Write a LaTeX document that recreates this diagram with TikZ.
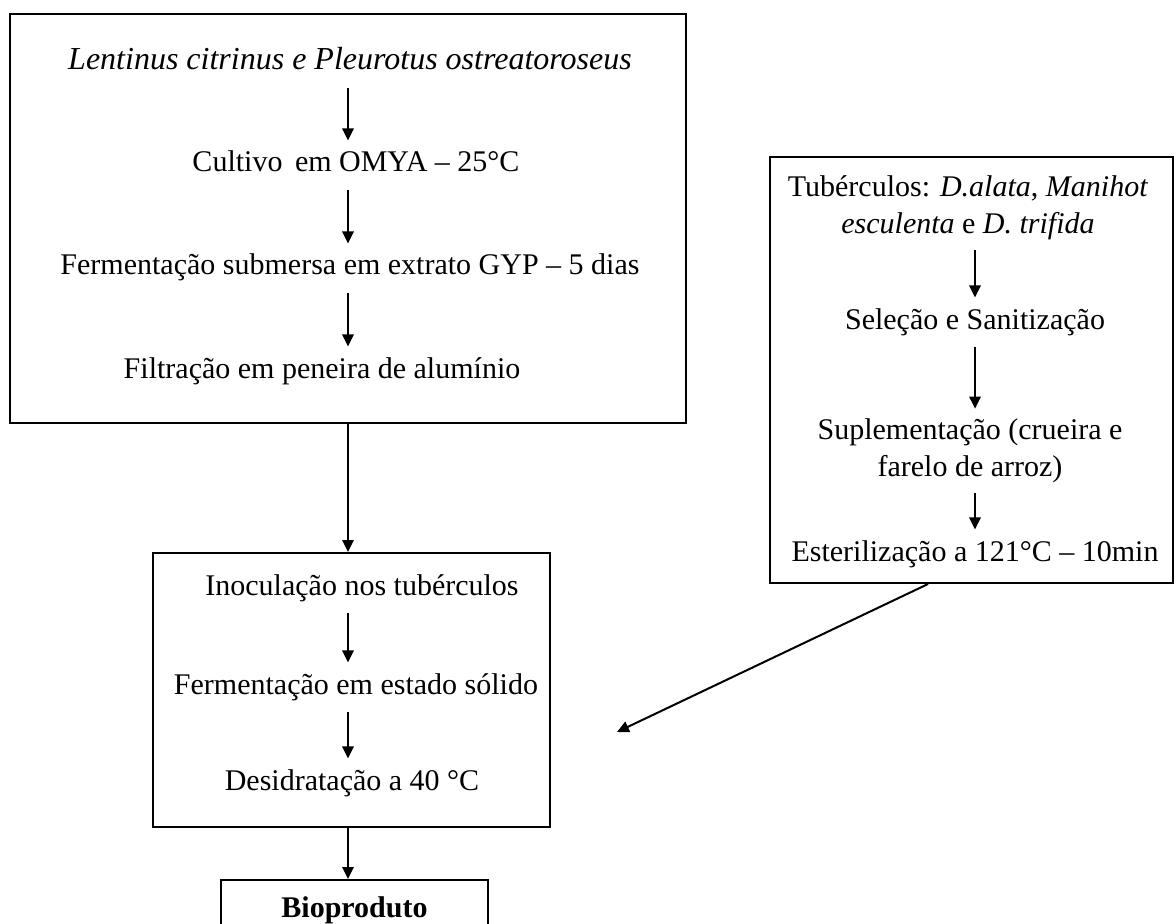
\documentclass[tikz,border=0pt]{standalone}
\usepackage{fontspec}
\setmainfont{Liberation Serif}
\usetikzlibrary{arrows.meta}
\tikzset{
  etapa/.style={font=\fontsize{22.5}{27.75}\selectfont, inner xsep=0pt, inner ysep=7.5pt, text height=16pt, text depth=5.5pt},
  etapam/.style={etapa, align=center, text height=, text depth=},
  caixa/.style={draw, line width=1.5pt, inner sep=0pt},
  seta/.style={line width=1.5pt, -{Triangle[width=8.5pt,length=9pt]}},
}
\begin{document}
\begin{tikzpicture}[x=0.75pt,y=0.75pt,yscale=-1,xscale=1]
\path[use as bounding box, clip] (0,0) rectangle (1176,923);
% axes of the arrows
\coordinate (eixo) at (348,0);
\coordinate (eixod) at (975,0);
%Shape: boxes
\node[caixa, minimum width=507pt, minimum height=306.75pt] (cultura) at (348,218.5) {};
\node[caixa, minimum width=297.75pt, minimum height=205.5pt] (solido) at (351.5,690) {};
\node[caixa, minimum width=302.25pt, minimum height=319.5pt] (substrato) at (971.5,370) {};
\node[caixa, etapa, minimum width=200.25pt, minimum height=45pt] (bio) at (354.5,910) {\textbf{Bioproduto}};
% Text Node
\node[etapa, font=\fontsize{24}{27.75}\selectfont] (fungos) at (350,63) {\textit{Lentinus citrinus e Pleurotus ostreatoroseus}};
\node[etapa] (cultivo) at (356,165) {Cultivo\, em OMYA – 25°C};
\node[etapa] (submersa) at (350,268) {Fermentação submersa em extrato GYP – 5 dias};
\node[etapa] (filtra) at (322,371) {Filtração em peneira de alumínio};
% Text Node
\node[etapa] (inocula) at (362,588) {Inoculação nos tubérculos};
\node[etapa] (fes) at (356,687) {Fermentação em estado sólido};
\node[etapa] (seca) at (352,783) {Desidratação a 40 °C};
% Text Node
\node[etapam] (tuber) at (968,208) {Tubérculos: \textit{D.alata}, \textit{Manihot}\\ \textit{esculenta} e \textit{D. trifida}};
\node[etapa] (selecao) at (975,322) {Seleção e Sanitização};
\node[etapam] (suple) at (970,451) {Suplementação (crueira e\\ farelo de arroz)};
\node[etapa] (ester) at (975,554) {Esterilização a 121°C – 10min};
\coordinate (alvo) at (617,732);
%Straight Lines
\draw[seta] (fungos.south -| eixo) -- (cultivo.north -| eixo);
\draw[seta] (cultivo.south -| eixo) -- (submersa.north -| eixo);
\draw[seta] (submersa.south -| eixo) -- (filtra.north -| eixo);
\draw[seta] (cultura.south -| eixo) -- (solido.north -| eixo);
\draw[seta] (inocula.south -| eixo) -- (fes.north -| eixo);
\draw[seta] (fes.south -| eixo) -- (seca.north -| eixo);
\draw[seta] (solido.south -| eixo) -- (bio.north -| eixo);
\draw[seta] (tuber.south -| eixod) -- (selecao.north -| eixod);
\draw[seta] (selecao.south -| eixod) -- (suple.north -| eixod);
\draw[seta] (suple.south -| eixod) -- (ester.north -| eixod);
\draw[seta] ([xshift=-32.6pt]substrato.south) -- (alvo);
\end{tikzpicture}
\end{document}
